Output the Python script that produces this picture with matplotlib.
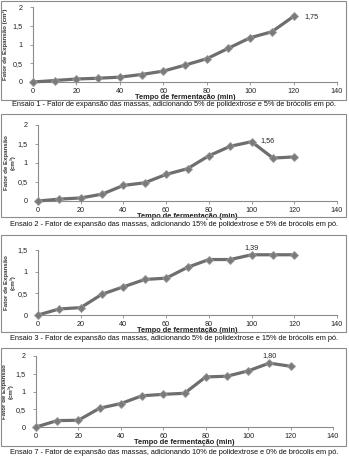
import matplotlib
matplotlib.use("Agg")
import matplotlib.pyplot as plt
from matplotlib.ticker import FuncFormatter
from matplotlib.patches import Rectangle

W, H = 349, 467

tempo = [0, 10, 20, 30, 40, 50, 60, 70, 80, 90, 100, 110, 120]

ensaio1 = [0, 0.04, 0.08, 0.10, 0.13, 0.20, 0.29, 0.45, 0.62, 0.90, 1.18, 1.34, 1.75]
ensaio2 = [0, 0.05, 0.08, 0.18, 0.41, 0.48, 0.70, 0.85, 1.19, 1.44, 1.56, 1.13, 1.16]
ensaio3 = [0, 0.14, 0.17, 0.48, 0.65, 0.82, 0.85, 1.10, 1.28, 1.28, 1.39, 1.39, 1.39]
ensaio7 = [0, 0.18, 0.19, 0.53, 0.66, 0.88, 0.92, 0.95, 1.41, 1.43, 1.58, 1.80, 1.71]

rotulo_idx = [12, 10, 10, 11]

legendas = [
    "Ensaio 1 - Fator de expansão das massas, adicionando 5% de polidextrose e 5% de brócolis em pó.",
    "Ensaio 2 - Fator de expansão das massas, adicionando 15% de polidextrose e 5% de brócolis em pó.",
    "Ensaio 3 - Fator de expansão das massas, adicionando 5% de polidextrose e 15% de brócolis em pó.",
    "Ensaio 7 - Fator de expansão das massas, adicionando 10% de polidextrose e 0% de brócolis em pó.",
]

yticks = [[0, 0.5, 1, 1.5, 2], [0, 0.5, 1, 1.5, 2], [0, 0.5, 1, 1.5], [0, 0.5, 1, 1.5, 2]]
xticks = [0, 20, 40, 60, 80, 100, 120, 140]

# layout in pixels: (left, right, y of zero, y of top, ymax, frame top, frame bottom, caption y)
paineis = [
    (33, 337, 82, 7, 2.0, 1, 100, 105),
    (38, 337, 201, 125, 2.0, 114, 217, 224),
    (38, 337, 315, 250, 1.5, 235, 332, 338.5),
    (36, 333, 427, 356, 2.0, 348, 446, 452),
]
ylabels = ["Fator de Expansão (cm³)", "Fator de Expansão\n(cm³)",
           "Fator de Expansão\n(cm³)", "Fator de Expansão\n(cm³)"]

plt.rcParams['font.family'] = ['Liberation Sans', 'DejaVu Sans']

fig = plt.figure(figsize=(W / 100, H / 100), dpi=100)
fig.patch.set_facecolor("white")

series = [ensaio1, ensaio2, ensaio3, ensaio7]
virg = FuncFormatter(lambda v, p: ("%g" % v).replace(".", ","))

for i, (serie, pos) in enumerate(zip(series, paineis)):
    left, right, y0, ytop, ymax, ftop, fbot, capy = pos
    # chart frame
    fig.patches.append(Rectangle((1 / W, 1 - fbot / H), 345 / W, (fbot - ftop) / H,
                                 transform=fig.transFigure, fill=False,
                                 edgecolor="#8c8c8c", linewidth=0.8))
    ax = fig.add_axes([left / W, 1 - y0 / H, (right - left) / W, (y0 - ytop) / H])
    ax.set_facecolor("none")
    ax.plot(tempo, serie, color="#6e6e6e", linewidth=2.3, marker="D",
            markersize=4.2, markerfacecolor="#7a7a7a", markeredgecolor="#9a9a9a",
            markeredgewidth=0.6, clip_on=False, zorder=3)
    ax.set_xlim(0, 140)
    ax.set_ylim(0, ymax)
    ax.set_xticks(xticks)
    ax.set_yticks(yticks[i])
    ax.yaxis.set_major_formatter(virg)
    for s in ["top", "right"]:
        ax.spines[s].set_visible(False)
    for s in ["left", "bottom"]:
        ax.spines[s].set_color("#8c8c8c")
        ax.spines[s].set_linewidth(0.8)
    ax.tick_params(axis="both", labelsize=5.2, length=2.5, width=0.6,
                   color="#8c8c8c", pad=2.0, labelcolor="#222222")
    ax.tick_params(axis="y", pad=5)
    ax.set_xlabel("Tempo de fermentação (min)", fontsize=5.3, fontweight="bold",
                  color="#222222", labelpad=-1.0)
    ax.set_ylabel(ylabels[i], fontsize=4.4, fontweight="bold", color="#333333",
                  labelpad=1.5 if i else 3.5, linespacing=1.15)
    k = rotulo_idx[i]
    val = serie[k]
    txt = ("%.2f" % val).replace(".", ",")
    if i == 0:
        ax.annotate(txt, (tempo[k], val), xytext=(8, 0), textcoords="offset points",
                    fontsize=5.2, va="center", ha="left", color="#222222")
    elif i == 1:
        ax.annotate(txt, (tempo[k], val), xytext=(6, 1), textcoords="offset points",
                    fontsize=5.2, va="center", ha="left", color="#222222")
    else:
        ax.annotate(txt, (tempo[k], val), xytext=(0, 3), textcoords="offset points",
                    fontsize=5.2, va="bottom", ha="center", color="#222222")
    fig.text(174 / W, 1 - capy / H, legendas[i], ha="center", va="center",
             fontsize=5.35, color="#111111")

fig.savefig("out.png", dpi=100, facecolor="white")
